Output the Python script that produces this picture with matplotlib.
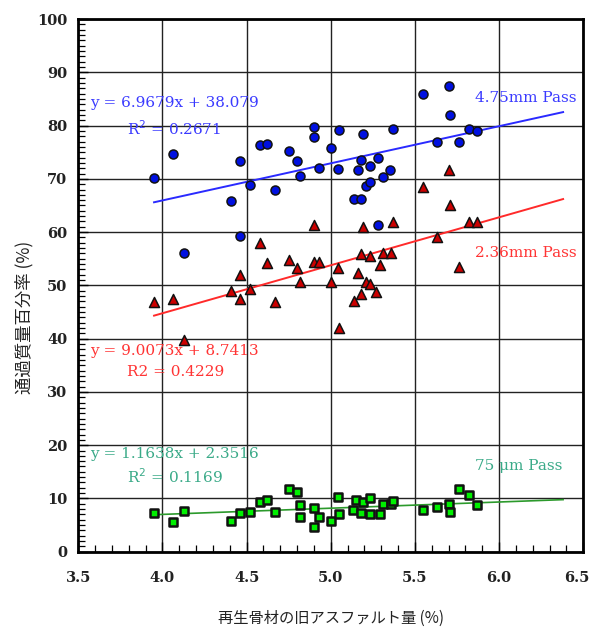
import numpy as np
import matplotlib
matplotlib.use("Agg")
import matplotlib.pyplot as plt
import matplotlib.transforms as mtransforms
from matplotlib.ticker import MultipleLocator, FormatStrFormatter

# ---------------- data ----------------
blue_x = [3.95, 4.06, 4.13, 4.41, 4.46, 4.46, 4.52, 4.58, 4.62, 4.67, 4.75, 4.80, 4.82,
          4.90, 4.90, 4.93, 5.00, 5.05, 5.04, 5.14, 5.18, 5.16, 5.18, 5.19, 5.21, 5.23,
          5.23, 5.28, 5.28, 5.31, 5.35, 5.37, 5.55, 5.63, 5.70, 5.71, 5.76, 5.82, 5.87]
blue_y = [70.1, 74.6, 56.0, 65.9, 73.3, 59.2, 68.9, 76.3, 76.5, 67.9, 75.2, 73.4, 70.6,
          79.7, 77.8, 72.0, 75.8, 79.1, 71.8, 66.2, 66.2, 71.6, 73.6, 78.4, 68.7, 69.4,
          72.4, 73.9, 61.4, 70.4, 71.7, 79.4, 85.9, 76.9, 87.5, 82.0, 76.9, 79.4, 78.9]

red_x = [3.95, 4.06, 4.13, 4.41, 4.46, 4.46, 4.52, 4.58, 4.62, 4.67, 4.75, 4.80, 4.82,
         4.90, 4.90, 4.93, 5.00, 5.04, 5.05, 5.14, 5.16, 5.18, 5.18, 5.19, 5.21, 5.23,
         5.23, 5.27, 5.29, 5.31, 5.36, 5.37, 5.55, 5.63, 5.70, 5.71, 5.76, 5.82, 5.87]
red_y = [46.8, 47.5, 39.7, 49.0, 51.9, 47.5, 49.4, 57.9, 54.2, 46.8, 54.7, 53.2, 50.7,
         61.4, 54.4, 54.4, 50.7, 53.3, 42.0, 47.0, 52.4, 48.4, 55.9, 61.0, 50.6, 50.2,
         55.6, 48.7, 53.9, 56.0, 56.0, 61.9, 68.4, 59.0, 71.6, 65.0, 53.4, 61.9, 61.9]

green_x = [3.95, 4.06, 4.13, 4.41, 4.46, 4.52, 4.58, 4.62, 4.67, 4.75, 4.80, 4.82,
           4.82, 4.90, 4.93, 4.90, 5.00, 5.05, 5.04, 5.13, 5.15, 5.19, 5.23, 5.18,
           5.23, 5.29, 5.31, 5.36, 5.37, 5.55, 5.63, 5.70, 5.71, 5.76, 5.82, 5.87]
green_y = [7.3, 5.5, 7.6, 5.8, 7.3, 7.4, 9.3, 9.8, 7.4, 11.7, 11.3, 8.8,
           6.5, 8.3, 6.5, 4.6, 5.8, 7.0, 10.2, 7.8, 9.8, 9.3, 10.0, 7.3,
           7.0, 7.0, 9.0, 8.9, 9.6, 7.8, 8.4, 9.0, 7.4, 11.7, 10.6, 8.7]

# trendline coefficients (slope, intercept) as printed on the chart
blue_fit = (6.9679, 38.079)
red_fit = (9.0073, 8.7413)
green_fit = (1.1638, 2.3516)
fit_range = (3.95, 6.38)

blue_eq = ["y = 6.9679x + 38.079", "R$^2$ = 0.2671"]
red_eq = ["y = 9.0073x + 8.7413", "R2 = 0.4229"]
green_eq = ["y = 1.1638x + 2.3516", "R$^2$ = 0.1169"]
series_names = ["4.75mm Pass", "2.36mm Pass", "75 μm Pass"]

x_ticks = [3.5, 4.0, 4.5, 5.0, 5.5, 6.0, 6.5]
y_ticks = list(range(0, 101, 10))

# ---------------- figure ----------------
fig = plt.figure(figsize=(5.94, 6.33), dpi=100)
ax = fig.add_axes([0.1318, 0.1284, 0.8502, 0.8415])

serif = "DejaVu Serif"
cjk = ["Noto Sans CJK JP", "DejaVu Sans"]

ax.set_xlim(3.5, 6.5)
ax.set_ylim(0, 100)
ax.set_xticks(x_ticks)
ax.set_yticks(y_ticks)
ax.xaxis.set_major_formatter(FormatStrFormatter("%.1f"))
ax.xaxis.set_minor_locator(MultipleLocator(0.1))
ax.yaxis.set_minor_locator(MultipleLocator(1))
ax.grid(True, which="major", color="#222222", linewidth=1.0, zorder=1)
ax.set_axisbelow(True)

ax.tick_params(axis="both", which="major", direction="in", length=7, width=1.0,
               top=False, right=False)
ax.tick_params(axis="both", which="minor", direction="in", length=5, width=0.9,
               top=False, right=False)
ax.tick_params(axis="x", which="major", pad=14)
ax.tick_params(axis="y", which="major", pad=8)
for lab in ax.get_xticklabels() + ax.get_yticklabels():
    lab.set_fontfamily(serif)
    lab.set_fontweight("bold")
    lab.set_fontsize(10.5)
    lab.set_color("#222222")
# keep the last x tick label inside the canvas
last = ax.get_xticklabels()[-1]
last.set_transform(last.get_transform() +
                   mtransforms.ScaledTranslation(-5 / 72, 0, fig.dpi_scale_trans))

for s in ax.spines.values():
    s.set_linewidth(2.0)
    s.set_color("black")

# trendlines
xf = np.linspace(fit_range[0], fit_range[1], 2)
ax.plot(xf, blue_fit[0] * xf + blue_fit[1], color="#2a2aff", lw=1.4, zorder=3)
ax.plot(xf, red_fit[0] * xf + red_fit[1], color="#ff2a2a", lw=1.4, zorder=3)
ax.plot(xf, green_fit[0] * xf + green_fit[1], color="#2c9a2c", lw=1.2, zorder=3)

# points
ax.scatter(blue_x, blue_y, s=42, marker="o", facecolor="#0010e0", edgecolor="#111111",
           linewidths=1.1, zorder=4)
ax.scatter(red_x, red_y, s=52, marker="^", facecolor="#cc0000", edgecolor="#111111",
           linewidths=1.1, zorder=4)
ax.scatter(green_x, green_y, s=40, marker="s", facecolor="#00f000", edgecolor="#111111",
           linewidths=1.8, zorder=4)

# annotations
tk = dict(fontfamily=serif, fontsize=11, va="center", ha="left", zorder=5)
ax.text(3.57, 84.3, blue_eq[0], color="#3a3aff", **tk)
ax.text(3.79, 79.5, blue_eq[1], color="#3a3aff", **tk)
ax.text(3.57, 37.7, red_eq[0], color="#ff3434", **tk)
ax.text(3.79, 33.8, red_eq[1], color="#ff3434", **tk)
ax.text(3.57, 18.3, green_eq[0], color="#3aaa88", **tk)
ax.text(3.79, 14.1, green_eq[1], color="#3aaa88", **tk)
ax.text(5.857, 85.1, series_names[0], color="#3a3aff", **tk)
ax.text(5.857, 56.0, series_names[1], color="#ff3434", **tk)
ax.text(5.857, 16.1, series_names[2], color="#3aaa88", **tk)

ax.set_xlabel("再生骨材の旧アスファルト量 (%)", fontfamily=cjk, fontsize=11,
              color="#222222")
ax.set_ylabel("通過質量百分率 (%)", fontfamily=cjk, fontsize=12.5, color="#222222")
ax.xaxis.set_label_coords(0.5, -0.11)
ax.yaxis.set_label_coords(-0.088, 0.44)

fig.savefig("out.png", dpi=100)
